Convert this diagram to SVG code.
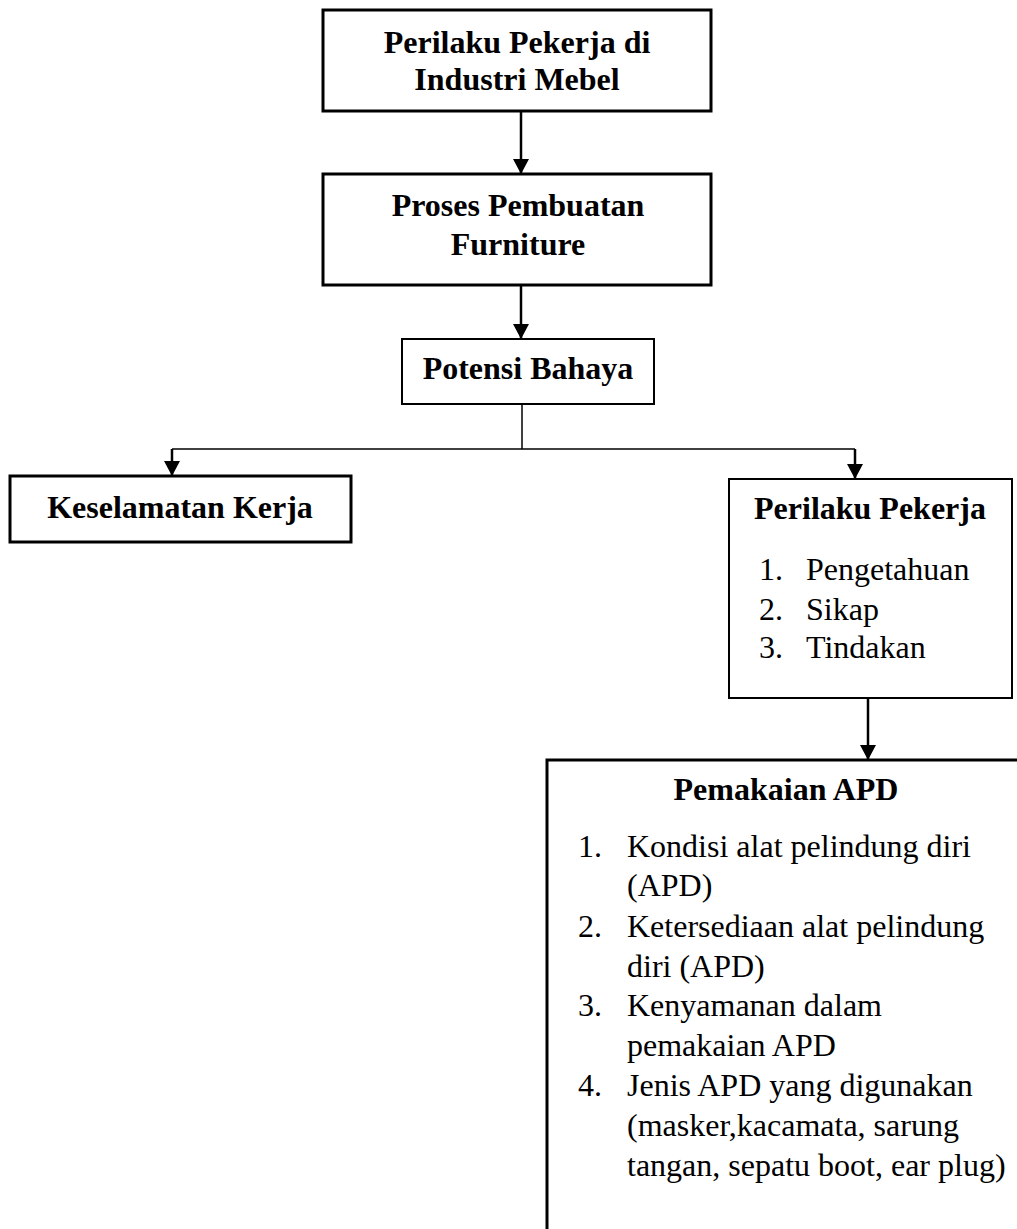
<svg xmlns="http://www.w3.org/2000/svg" width="1017" height="1229" viewBox="0 0 1017 1229">
<style>
  .box { fill: #fff; stroke: #000; }
  .thick { stroke-width: 3; }
  .thin { stroke-width: 2; }
  .t { font-family: "Liberation Serif", "Times New Roman", serif; font-size: 32px; fill: #000; }
  .b { font-weight: bold; }
  .c { text-anchor: middle; }
  .con { fill: none; stroke: #000; }
  .arrow { stroke-width: 2.5; marker-end: url(#arr); }
</style>
<defs>
  <marker id="arr" viewBox="0 0 15 16" refX="15" refY="8" markerWidth="15" markerHeight="16" markerUnits="userSpaceOnUse" orient="auto">
    <path d="M0,0 L15,8 L0,16 Z" fill="#000"/>
  </marker>
</defs>
<rect width="1017" height="1229" fill="#fff"/>
<g id="connectors">
  <line class="con arrow" x1="521" y1="111" x2="521" y2="174"/>
  <line class="con arrow" x1="521" y1="285" x2="521" y2="339"/>
  <line class="con" x1="522" y1="404" x2="522" y2="449" stroke-width="1.5"/>
  <line class="con" x1="172" y1="449" x2="855" y2="449" stroke-width="1.5"/>
  <line class="con arrow" x1="172" y1="449" x2="172" y2="476"/>
  <line class="con arrow" x1="855" y1="449" x2="855" y2="479"/>
  <line class="con arrow" x1="868" y1="698" x2="868" y2="760"/>
</g>
<g id="node-perilaku-industri">
  <rect class="box thick" x="323" y="10" width="388" height="101"/>
  <text class="t b c" x="517" y="53">Perilaku Pekerja di</text>
  <text class="t b c" x="517" y="90">Industri Mebel</text>
</g>
<g id="node-proses">
  <rect class="box thick" x="323" y="174" width="388" height="111"/>
  <text class="t b c" x="518" y="216">Proses Pembuatan</text>
  <text class="t b c" x="518" y="255">Furniture</text>
</g>
<g id="node-potensi">
  <rect class="box thin" x="402" y="339" width="252" height="65"/>
  <text class="t b c" x="528" y="379">Potensi Bahaya</text>
</g>
<g id="node-keselamatan">
  <rect class="box thick" x="10" y="476" width="341" height="66"/>
  <text class="t b c" x="180" y="518">Keselamatan Kerja</text>
</g>
<g id="node-perilaku-pekerja">
  <rect class="box thin" x="729" y="479" width="283" height="219"/>
  <text class="t b c" x="870" y="519">Perilaku Pekerja</text>
  <text class="t" x="759" y="580">1.</text><text class="t" x="806" y="580">Pengetahuan</text>
  <text class="t" x="759" y="620">2.</text><text class="t" x="806" y="620">Sikap</text>
  <text class="t" x="759" y="658">3.</text><text class="t" x="806" y="658">Tindakan</text>
</g>
<g id="node-apd">
  <path class="box thick" d="M1020,760 L547,760 L547,1232"/>
  <text class="t b c" x="786" y="800">Pemakaian APD</text>
  <text class="t" x="578" y="857">1.</text><text class="t" x="627" y="857">Kondisi alat pelindung diri</text>
  <text class="t" x="627" y="896">(APD)</text>
  <text class="t" x="578" y="937">2.</text><text class="t" x="627" y="937">Ketersediaan alat pelindung</text>
  <text class="t" x="627" y="977">diri (APD)</text>
  <text class="t" x="578" y="1016">3.</text><text class="t" x="627" y="1016">Kenyamanan dalam</text>
  <text class="t" x="627" y="1056">pemakaian APD</text>
  <text class="t" x="578" y="1096">4.</text><text class="t" x="627" y="1096">Jenis APD yang digunakan</text>
  <text class="t" x="627" y="1136">(masker,kacamata, sarung</text>
  <text class="t" x="627" y="1176">tangan, sepatu boot, ear plug)</text>
</g>
</svg>
